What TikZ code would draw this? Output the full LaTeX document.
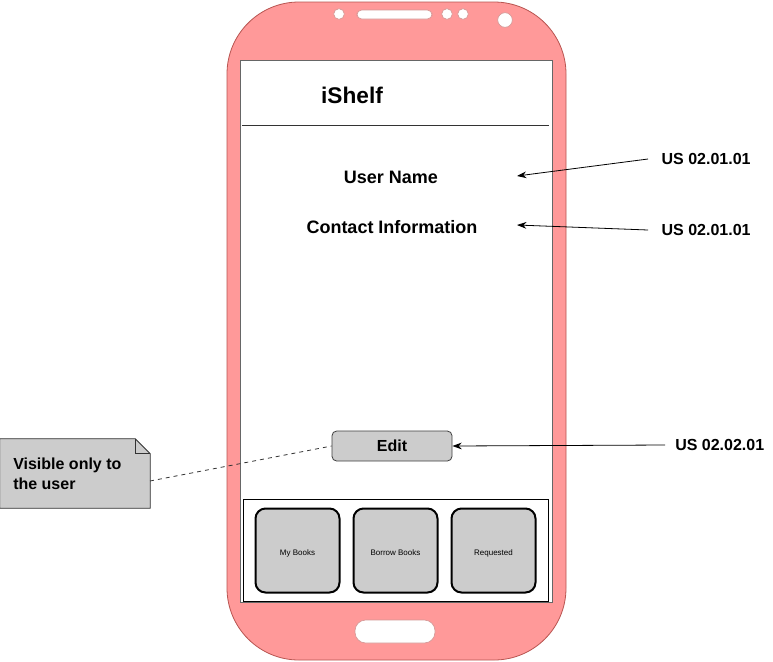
\documentclass[tikz,border=0pt]{standalone}
\usepackage{fontspec}
\setmainfont{Liberation Sans}
\usetikzlibrary{arrows.meta,calc}
\definecolor{phonefill}{HTML}{FF9999}
\definecolor{phoneedge}{HTML}{B85450}
\definecolor{btngray}{HTML}{CCCCCC}
\begin{document}
\begin{tikzpicture}[x=0.75pt,y=-0.75pt,
  lbl/.style={font=\fontsize{13.5}{16}\selectfont\bfseries, inner sep=0pt},
  uslbl/.style={font=\fontsize{12}{14}\selectfont\bfseries, inner xsep=10pt, inner ysep=0pt, anchor=west},
  navbtn/.style={draw=black, line width=1.5pt, fill=btngray, rounded corners=7.5pt,
    minimum width=63pt, minimum height=63pt, inner sep=0pt, text height=7.4pt, text depth=0pt,
    font=\fontsize{6}{7}\selectfont},
  editbtn/.style={draw=black!75, line width=0.6pt, fill=btngray, rounded corners=3.5pt,
    minimum width=90pt, minimum height=22.5pt, inner sep=0pt, font=\fontsize{12}{14}\selectfont\bfseries},
  ptr/.style={-{Stealth[length=7pt,width=5pt]}, line width=0.6pt, black},
  hole/.style={fill=white, draw=phoneedge!60, line width=0.5pt}
]
\useasboundingbox (0,0) rectangle (773,661);

% phone body
\draw[fill=phonefill, draw=phoneedge, line width=0.6pt, rounded corners=54pt]
  (227,2) rectangle (566,660);
% top openings: camera, speaker, sensors
\draw[hole] (339,14) circle (4pt);
\draw[hole, rounded corners=3.5pt] (357,10) rectangle (432,19);
\draw[hole] (447,14) circle (4pt);
\draw[hole] (463,14) circle (4pt);
\draw[hole] (505,20) circle (5.5pt);
% home button
\draw[hole, rounded corners=8pt] (355,620) rectangle (435,643);

% screen
\draw[fill=white, draw=black!60, line width=0.5pt] (240,60) rectangle (552,602);
\draw[black!80, line width=0.7pt] (242,125) -- (549,125);

\node[font=\fontsize{17}{20}\selectfont\bfseries, inner sep=0pt] (title) at (352,95) {iShelf};
\node[lbl] (uname) at (391,177) {User Name};
\node[lbl] (contact) at (392,227) {Contact Information};
\coordinate (unameTip) at (517,176);
\coordinate (contactTip) at (517,225);

\node[editbtn] (edit) at (392,446) {Edit};

% bottom navigation bar
\draw[fill=white, draw=black, line width=0.6pt] (243,499) rectangle (548,601);
\node[navbtn] (mybooks) at (297.5,550.5) {My Books};
\node[navbtn] (borrow) at (395.5,550.5) {Borrow Books};
\node[navbtn] (requested) at (493.5,550.5) {Requested};

% requirement labels
\node[uslbl] (us1) at (648,159) {US 02.01.01};
\node[uslbl] (us2) at (648,230) {US 02.01.01};
\node[uslbl, inner xsep=7.5pt] (us3) at (665,445) {US 02.02.01};

\draw[ptr] (us1.west) -- (unameTip);
\draw[ptr] (us2.west) -- (contactTip);
\draw[ptr] (us3.west) -- (edit.east);

% note with folded corner
\node[minimum width=112.5pt, minimum height=51.75pt, inner sep=0pt] (note) at (75,473.5) {};
\draw[fill=btngray, draw=black!80, line width=0.6pt]
  (note.north west) -- ($(note.north east)+(-15,0)$) -- ($(note.north east)+(0,15)$)
  -- (note.south east) -- (note.south west) -- cycle;
\draw[draw=black!80, line width=0.6pt]
  ($(note.north east)+(-15,0)$) -- ($(note.north east)+(-15,15)$) -- ($(note.north east)+(0,15)$);
\node[anchor=west, align=left, inner sep=0pt, font=\fontsize{12}{15}\selectfont\bfseries]
  (notetext) at (13,473.5) {Visible only to\\the user};
\coordinate (notelink) at (150,481);
\draw[dashed, line width=0.6pt, black!80] (notelink) -- (edit.west);
\end{tikzpicture}
\end{document}
